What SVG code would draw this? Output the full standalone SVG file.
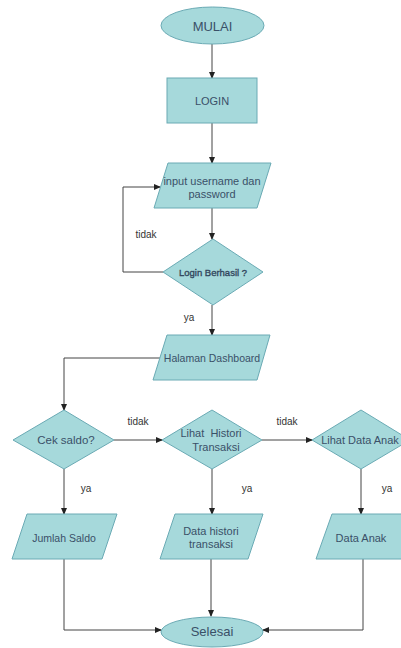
<svg xmlns="http://www.w3.org/2000/svg" width="401" height="648" viewBox="0 0 401 648">
<defs>
<marker id="arr" markerWidth="7" markerHeight="6" refX="6" refY="3" orient="auto" markerUnits="userSpaceOnUse">
<path d="M0,0 L7,3 L0,6 Z" fill="#222"/>
</marker>
<style>
.shape{fill:#a6d9db;stroke:#6aaab4;stroke-width:1}
.t{font-family:"Liberation Sans",Arial,sans-serif;fill:#3a5068;text-anchor:middle;dominant-baseline:central;font-size:11px}
.lbl{font-family:"Liberation Sans",Arial,sans-serif;fill:#333;font-size:10px;text-anchor:middle;dominant-baseline:central}
.c{fill:none;stroke:#444;stroke-width:1;marker-end:url(#arr)}
</style>
</defs>
<rect width="401" height="648" fill="#fff"/>
<g id="connectors">
<path class="c" d="M212,44 V78"/>
<path class="c" d="M212,123 V163"/>
<path class="c" d="M212,208 V239"/>
<path class="c" d="M163,272 H123 V187 H160"/>
<path class="c" d="M212,305 V335"/>
<path class="c" d="M160,358 H64 V410"/>
<path class="c" d="M114,440 H162"/>
<path class="c" d="M262,440 H312"/>
<path class="c" d="M64,469 V514"/>
<path class="c" d="M212,469 V514"/>
<path class="c" d="M361,469 V514"/>
<path class="c" d="M64,559 V630 H161"/>
<path class="c" d="M211,559 V616"/>
<path class="c" d="M363,559 V630 H263"/>
<text class="lbl" x="146" y="234">tidak</text>
<text class="lbl" x="189" y="317">ya</text>
<text class="lbl" x="138" y="421">tidak</text>
<text class="lbl" x="287" y="421">tidak</text>
<text class="lbl" x="86" y="488">ya</text>
<text class="lbl" x="247" y="488">ya</text>
<text class="lbl" x="387" y="488">ya</text>
</g>
<g id="mulai">
<ellipse class="shape" cx="212.5" cy="25.5" rx="51.5" ry="18.5"/>
<text class="t" x="212.5" y="26" style="font-size:13px">MULAI</text>
</g>
<g id="login">
<rect class="shape" x="167" y="78" width="90" height="45"/>
<text class="t" x="212" y="101">LOGIN</text>
</g>
<g id="input">
<polygon class="shape" points="168,163 271,163 257,208 154,208"/>
<text class="t" x="212" y="181">input username dan</text>
<text class="t" x="212" y="194">password</text>
</g>
<g id="login-berhasil">
<polygon class="shape" points="213,239 263,272 213,305 163,272"/>
<text class="t" x="213" y="272" style="font-size:9.5px;stroke:#2e4258;stroke-width:0.35">Login Berhasil ?</text>
</g>
<g id="dashboard">
<polygon class="shape" points="167,335 270,335 257,380 153,380"/>
<text class="t" x="212" y="358" style="font-size:10.5px">Halaman Dashboard</text>
</g>
<g id="cek-saldo">
<polygon class="shape" points="64,410 114,440 64,469 13,440"/>
<text class="t" x="66" y="440" style="font-size:11.5px">Cek saldo?</text>
</g>
<g id="lihat-histori">
<polygon class="shape" points="212,410 262,440 212,469 162,440"/>
<text class="t" x="211" y="433" xml:space="preserve">Lihat  Histori</text>
<text class="t" x="216" y="447">Transaksi</text>
</g>
<g id="lihat-anak">
<polygon class="shape" points="361,410 410,440 361,469 312,440"/>
<text class="t" x="360" y="440">Lihat Data Anak</text>
</g>
<g id="jumlah-saldo">
<polygon class="shape" points="27,514 117,514 102,559 12,559"/>
<text class="t" x="64" y="538" style="font-size:10.5px">Jumlah Saldo</text>
</g>
<g id="data-histori">
<polygon class="shape" points="175,514 263,514 248,559 160,559"/>
<text class="t" x="211" y="531">Data histori</text>
<text class="t" x="211" y="544">transaksi</text>
</g>
<g id="data-anak">
<polygon class="shape" points="332,514 421,514 406,559 316,559"/>
<text class="t" x="361" y="538">Data Anak</text>
</g>
<g id="selesai">
<ellipse class="shape" cx="212" cy="632" rx="51" ry="15"/>
<text class="t" x="212" y="631" style="font-size:13px">Selesai</text>
</g>
</svg>
